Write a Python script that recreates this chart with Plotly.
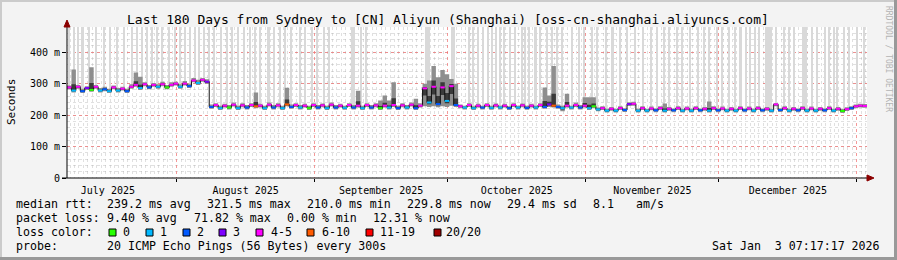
import plotly.graph_objects as go
from datetime import datetime, timedelta

# ---------------- data ----------------
END = datetime(2026, 1, 3, 7, 17, 17)
START = END - timedelta(days=180)
Y_TOP = 480

# daily median rtt (ms), day 0 = START
median_ms = [
    288, 278, 290, 276, 286, 280, 290, 278,
    282, 276, 288, 278, 284, 276, 290,
    296, 286, 298, 288, 296, 290, 298, 288, 296,
    300, 290, 300, 292,
    310, 302, 312, 306,
    226, 232, 222, 230, 224, 233, 222, 231,
    224, 232, 228, 230, 222, 233, 224, 231,
    222, 234, 226, 232, 224, 230, 222, 232,
    224, 231, 222, 233, 224, 230, 223, 232,
    224, 230, 222, 232, 224, 231, 222, 230,
    224, 232, 222, 231, 224, 233, 222, 230,
    285, 240, 290, 235, 288, 245, 292, 232,
    228, 224, 232, 222, 230, 224, 232, 223,
    231, 224, 230, 222, 232, 224, 231, 223,
    230, 224, 232, 226, 234, 230, 226, 222,
    230, 224, 232, 224, 230, 222, 228,
    218, 222, 214, 220, 214, 222, 216,
    235, 236,
    214, 222, 214, 221, 215, 222, 214, 220,
    215, 222, 214, 221, 214, 222, 215, 220,
    214, 222, 215, 221, 214, 220, 214, 222,
    215, 221, 214, 222, 215, 220, 214, 234,
    216, 222, 214, 220, 215, 222, 214, 221,
    214, 220, 215, 222, 214, 220, 213, 219,
    222, 228, 230, 229,
]

# lost pings out of 20 per day
lost_pings = [
    4, 1, 4, 2, 3, 0, 4, 1,
    2, 1, 4, 1, 4, 2, 4,
    4, 1, 4, 2, 4, 1, 4, 0, 4,
    4, 1, 4, 2,
    4, 1, 4, 3,
    2, 4, 1, 4, 0, 4, 1, 4,
    2, 4, 7, 4, 1, 4, 2, 4,
    1, 8, 2, 4, 1, 4, 0, 4,
    2, 4, 1, 4, 2, 4, 1, 4,
    2, 4, 1, 4, 2, 4, 0, 4,
    1, 4, 2, 4, 1, 4, 2, 4,
    4, 1, 4, 2, 4, 1, 4, 2,
    4, 1, 4, 1, 4, 2, 4, 1,
    4, 1, 4, 2, 4, 1, 4, 2,
    4, 1, 4, 2, 3, 8, 2, 1,
    4, 1, 4, 2, 4, 1, 0,
    1, 4, 1, 4, 1, 4, 2,
    3, 4,
    1, 4, 1, 4, 2, 4, 1, 4,
    2, 4, 1, 4, 1, 4, 2, 4,
    1, 4, 2, 4, 1, 4, 1, 4,
    2, 4, 1, 4, 2, 4, 1, 4,
    2, 4, 1, 4, 2, 4, 1, 4,
    1, 4, 2, 4, 1, 4, 0, 4,
    2, 4, 4, 4,
]

# smoke (ping spread) upper and lower bound per day (ms)
smoke_hi_ms = [
    294, 345, 296, 284, 292, 352, 296, 286,
    290, 284, 294, 286, 290, 284, 298,
    335, 322, 304, 296, 302, 298, 306, 296, 304,
    306, 298, 308, 300,
    318, 312, 318, 314,
    234, 238, 230, 236, 232, 240, 230, 238,
    232, 238, 272, 236, 230, 240, 232, 238,
    230, 287, 234, 238, 232, 236, 230, 238,
    232, 237, 230, 240, 232, 236, 230, 238,
    232, 277, 230, 238, 232, 238, 246, 262,
    246, 304, 230, 238, 232, 240, 252, 238,
    300, 310, 356, 320, 343, 330, 315, 300,
    234, 230, 238, 228, 236, 230, 238, 230,
    237, 230, 236, 228, 238, 230, 237, 230,
    236, 230, 238, 288, 262, 356, 234, 230,
    268, 230, 240, 232, 257, 257, 257,
    224, 228, 220, 226, 220, 228, 222,
    241, 242,
    220, 228, 220, 227, 221, 228, 237, 226,
    221, 228, 220, 227, 220, 228, 221, 226,
    243, 228, 221, 227, 220, 226, 220, 228,
    221, 227, 220, 228, 221, 226, 220, 238,
    222, 228, 220, 226, 221, 228, 220, 227,
    220, 226, 221, 228, 220, 226, 219, 225,
    228, 234, 236, 235,
]

smoke_lo_ms = [
    282, 272, 284, 270, 280, 274, 284, 272,
    276, 270, 282, 272, 278, 270, 284,
    290, 280, 292, 282, 290, 284, 292, 282, 290,
    294, 284, 294, 286,
    304, 296, 306, 300,
    220, 226, 216, 224, 218, 227, 216, 225,
    218, 226, 222, 224, 216, 227, 218, 225,
    216, 228, 220, 226, 218, 224, 216, 226,
    218, 225, 216, 227, 218, 224, 217, 226,
    218, 224, 216, 226, 218, 225, 216, 224,
    218, 226, 216, 225, 218, 227, 216, 224,
    228, 226, 228, 225, 228, 226, 230, 226,
    222, 218, 226, 216, 224, 218, 226, 217,
    225, 218, 224, 216, 226, 218, 225, 217,
    224, 218, 226, 220, 226, 224, 220, 212,
    224, 218, 226, 218, 224, 216, 222,
    212, 216, 208, 214, 208, 216, 210,
    229, 230,
    208, 216, 208, 215, 209, 216, 208, 214,
    209, 216, 208, 215, 208, 216, 209, 214,
    208, 216, 209, 215, 208, 214, 208, 216,
    209, 215, 208, 216, 209, 214, 208, 228,
    210, 216, 208, 214, 209, 216, 208, 215,
    208, 214, 209, 216, 208, 214, 207, 213,
    216, 222, 224, 223,
]

# periods where the slowest pings went off the top of the chart (day offset, duration in days)
outlier_day = [
    0.45, 1.58, 2.48, 3.49, 4.95, 6.53, 8.33, 9.68, 11.25, 12.83, 14.63, 15.75,
    16.88, 18.00, 19.13, 20.25, 21.38, 22.95, 24.30, 25.43, 26.55, 27.68, 28.80,
    29.70, 30.83, 31.95, 33.08, 34.65, 36.00, 37.13, 38.48, 39.83, 41.18, 42.30,
    43.43, 45.34, 46.58, 47.93, 49.05, 50.40, 52.43, 53.55, 55.13, 56.25, 57.83,
    58.95, 64.35, 66.15, 67.28, 81.20, 86.74,
    90.46, 91.36, 92.48, 93.61, 94.73, 95.63, 96.53, 97.43, 98.33, 99.57, 100.81,
    102.38, 103.06, 103.96, 105.42, 106.32, 108.01, 109.14, 110.26, 111.39, 113.64,
    115.21, 116.34, 118.14, 119.26,
    121.29, 122.75, 124.44, 126.01, 127.81, 129.61, 131.41, 132.76, 134.34, 135.46,
    137.26, 138.39, 140.19, 141.99, 143.34, 144.46, 146.26, 147.39, 148.96, 150.31,
    151.55, 152.79, 153.69, 154.82, 155.72, 157.85, 159.54, 161.34, 162.46, 163.59,
    165.95, 167.64, 168.77, 170.57, 171.47, 172.59, 173.27, 174.84, 175.97, 177.77,
    179.34,
]
outlier_span_days = [
    0.22, 0.22, 0.22, 0.56, 0.22, 0.45, 0.56, 0.22, 0.22, 0.22, 0.56, 0.22,
    0.22, 0.22, 0.22, 0.22, 0.22, 0.22, 0.22, 0.56, 0.22, 0.22, 0.22,
    0.22, 0.22, 0.22, 0.22, 0.56, 0.22, 0.22, 0.22, 0.22, 0.22, 0.22,
    0.22, 0.68, 0.22, 0.22, 0.22, 0.22, 0.56, 0.22, 0.22, 0.22, 0.22,
    0.22, 0.68, 0.34, 0.45, 1.10, 0.90,
    0.22, 0.22, 0.22, 0.45, 0.22, 0.22, 0.22, 0.22, 0.22, 0.45, 0.22,
    0.22, 0.22, 0.22, 0.68, 0.45, 0.22, 0.22, 0.22, 0.22, 0.22,
    0.22, 0.22, 0.22, 0.22,
    0.22, 0.68, 0.22, 0.22, 0.22, 0.56, 0.22, 0.22, 0.22, 0.56,
    0.22, 0.22, 0.22, 0.45, 0.22, 0.22, 0.22, 0.22, 0.22, 0.22,
    0.79, 0.22, 0.22, 0.22, 0.22, 1.58, 0.22, 0.22, 0.22, 0.22,
    1.13, 0.22, 0.22, 0.22, 0.22, 0.22, 0.22, 0.22, 0.22, 0.22,
    0.22,
]

y_tick_vals = [0, 100, 200, 300, 400]
y_tick_text = ["0", "100 m", "200 m", "300 m", "400 m"]

loss_legend = [("0", 0, 0, "#26ff00"), ("1", 1, 1, "#00b8ff"), ("2", 2, 2, "#0059ff"),
               ("3", 3, 3, "#7e00ff"), ("4-5", 4, 5, "#ff00ff"), ("6-10", 6, 10, "#ff5a00"),
               ("11-19", 11, 19, "#ff0000"), ("20/20", 20, 20, "#a00000")]

title_text = "Last 180 Days from Sydney to [CN] Aliyun (Shanghai) [oss-cn-shanghai.aliyuncs.com]"
rtt_row = [("median rtt:", 16), ("239.2 ms avg", 107), ("321.5 ms max", 207),
           ("210.0 ms min", 307), ("229.8 ms now", 407), ("29.4 ms sd", 507),
           ("8.1", 593), ("am/s", 636)]
loss_row = [("packet loss:", 16), ("9.40 % avg", 107), ("71.82 % max", 194),
            ("0.00 % min", 287), ("12.31 % now", 373)]
probe_row = [("probe:", 16), ("20 ICMP Echo Pings (56 Bytes) every 300s", 107)]
stamp_text = "Sat Jan  3 07:17:17 2026"

# ---------------- geometry (pixels) ----------------
FIG_W, FIG_H = 897, 260
L, T, W, H = 67, 27, 800, 151
MONO = "DejaVu Sans Mono"


def fx(px):
    return (px - L) / W


def fy(py):
    return (T + H - py) / H


def nb(s):
    return s.replace(" ", "\u00a0")


n = len(median_ms)
days = [START + timedelta(days=i) for i in range(n + 1)]
med_ext = median_ms + [median_ms[-1]]
hi_ext = smoke_hi_ms + [smoke_hi_ms[-1]]
lo_ext = smoke_lo_ms + [smoke_lo_ms[-1]]
# inner (denser) part of the smoke, drawn darker
inner_hi = [m + (h - m) * 0.3 for m, h in zip(med_ext, hi_ext)]
inner_lo = [m - (m - l) * 0.4 for m, l in zip(med_ext, lo_ext)]

fig = go.Figure()

# off-scale slow pings (light smoke up to the top)
bx, bbase, bh, bw = [], [], [], []
for d, s in zip(outlier_day, outlier_span_days):
    i = min(int(d), n - 1)
    bx.append(START + timedelta(days=d))
    bbase.append(median_ms[i])
    bh.append(Y_TOP - median_ms[i])
    bw.append(s * 86400000)
fig.add_trace(go.Bar(x=bx, y=bh, base=bbase, width=bw, marker=dict(color="#d9d9d9", line=dict(width=0)),
                     hoverinfo="skip"))

# smoke
fig.add_trace(go.Scatter(x=days, y=lo_ext, mode="lines", line=dict(width=0, shape="hv"), hoverinfo="skip"))
fig.add_trace(go.Scatter(x=days, y=hi_ext, mode="lines", line=dict(width=0, shape="hv"),
                         fill="tonexty", fillcolor="#8e8e8e", hoverinfo="skip"))
fig.add_trace(go.Scatter(x=days, y=inner_lo, mode="lines", line=dict(width=0, shape="hv"), hoverinfo="skip"))
fig.add_trace(go.Scatter(x=days, y=inner_hi, mode="lines", line=dict(width=0, shape="hv"),
                         fill="tonexty", fillcolor="#3a3a3a", hoverinfo="skip"))

# median line base
fig.add_trace(go.Scatter(x=days, y=med_ext, mode="lines", line=dict(width=1, color="#111111", shape="hv"),
                         hoverinfo="skip"))

# coloured median segments by loss
for label, lo_c, hi_c, col in loss_legend:
    xs, ys = [], []
    for i in range(n):
        if lo_c <= lost_pings[i] <= hi_c:
            xs += [days[i], days[i + 1], None]
            ys += [median_ms[i], median_ms[i], None]
    if xs:
        fig.add_trace(go.Scatter(x=xs, y=ys, mode="lines", line=dict(width=2, color=col),
                                 hoverinfo="skip", connectgaps=False))

ann = []
ann.append(dict(text=nb(title_text), x=fx(447.5), y=fy(19.5), xref="paper", yref="paper",
                showarrow=False, font=dict(family=MONO, size=13, color="#000"), xanchor="center",
                yanchor="middle"))
ann.append(dict(text="Seconds", x=fx(11), y=fy(102), xref="paper", yref="paper", showarrow=False,
                textangle=-90, font=dict(family=MONO, size=11, color="#000"), xanchor="center",
                yanchor="middle"))
ann.append(dict(text=nb("RRDTOOL / TOBI OETIKER"), x=fx(889), y=fy(59), xref="paper", yref="paper",
                showarrow=False, textangle=90, font=dict(family=MONO, size=8, color="#b4b4b4"),
                xanchor="center", yanchor="middle"))


def row(items, py):
    for txt, px in items:
        ann.append(dict(text=nb(txt), x=fx(px - 2), y=fy(py), xref="paper", yref="paper",
                        showarrow=False, font=dict(family=MONO, size=11.6, color="#000"),
                        xanchor="left", yanchor="middle"))


row(rtt_row, 204)
row(loss_row, 218)
row([("loss color:", 16)], 232)
row(probe_row, 246)
ann.append(dict(text=nb(stamp_text), x=fx(882), y=fy(246), xref="paper", yref="paper", showarrow=False,
                font=dict(family=MONO, size=11.6, color="#000"), xanchor="right", yanchor="middle"))

shapes = []
box_left = [109, 146, 183, 219, 256, 307, 366, 434]
label_left = [123, 160, 197, 233, 271, 322, 380, 446]
for (label, a, b, col), bl, tl in zip(loss_legend, box_left, label_left):
    shapes.append(dict(type="rect", xref="paper", yref="paper", x0=fx(bl), x1=fx(bl + 7),
                       y0=fy(236), y1=fy(229), fillcolor=col, line=dict(color="#000", width=1)))
    row([(label, tl)], 232)

# frame (3D border)
shapes.append(dict(type="rect", xref="paper", yref="paper", x0=fx(0), x1=fx(FIG_W), y0=fy(2), y1=fy(0),
                   fillcolor="#cbcbcb", line=dict(width=0), layer="above"))
shapes.append(dict(type="rect", xref="paper", yref="paper", x0=fx(0), x1=fx(2), y0=fy(FIG_H), y1=fy(0),
                   fillcolor="#cbcbcb", line=dict(width=0), layer="above"))
shapes.append(dict(type="rect", xref="paper", yref="paper", x0=fx(0), x1=fx(FIG_W), y0=fy(FIG_H),
                   y1=fy(257), fillcolor="#999999", line=dict(width=0), layer="above"))
shapes.append(dict(type="rect", xref="paper", yref="paper", x0=fx(894), x1=fx(FIG_W), y0=fy(FIG_H),
                   y1=fy(0), fillcolor="#999999", line=dict(width=0), layer="above"))

# axis extensions and arrows
shapes.append(dict(type="line", xref="paper", yref="paper", x0=fx(67), x1=fx(67), y0=fy(178), y1=fy(22),
                   line=dict(color="#000", width=1), layer="above"))
shapes.append(dict(type="line", xref="paper", yref="paper", x0=fx(62), x1=fx(870), y0=fy(178), y1=fy(178),
                   line=dict(color="#000", width=1), layer="above"))
shapes.append(dict(type="path", xref="paper", yref="paper",
                   path=f"M {fx(867)},{fy(175)} L {fx(874)},{fy(178)} L {fx(867)},{fy(181)} Z",
                   fillcolor="#8b0000", line=dict(color="#8b0000", width=1), layer="above"))
shapes.append(dict(type="path", xref="paper", yref="paper",
                   path=f"M {fx(64)},{fy(27)} L {fx(67)},{fy(20)} L {fx(70)},{fy(27)} Z",
                   fillcolor="#8b0000", line=dict(color="#8b0000", width=1), layer="above"))

fig.update_layout(
    width=FIG_W, height=FIG_H,
    margin=dict(l=L, r=FIG_W - L - W, t=T, b=FIG_H - T - H, pad=0),
    paper_bgcolor="#f3f3f3", plot_bgcolor="#ffffff",
    showlegend=False, barmode="overlay", bargap=0,
    annotations=ann, shapes=shapes,
    font=dict(family=MONO, size=10, color="#000"),
)
fig.update_xaxes(
    type="date", range=[START, END], dtick="M1", tick0="2025-07-01",
    tickformat="%B %Y", ticklabelmode="period",
    showgrid=True, gridcolor="rgba(240,110,110,0.7)", griddash="dot", gridwidth=1,
    ticks="outside", ticklen=3, tickcolor="#000",
    showline=False, zeroline=False,
    tickfont=dict(family=MONO, size=10, color="#000"),
    minor=dict(dtick=86400000, tick0="2025-07-01", showgrid=True,
               gridcolor="rgba(160,160,160,0.32)", griddash="dot", gridwidth=1),
)
fig.update_yaxes(
    range=[0, Y_TOP], tickvals=y_tick_vals, ticktext=y_tick_text,
    showgrid=True, gridcolor="rgba(240,110,110,0.7)", griddash="dot", gridwidth=1,
    ticks="outside", ticklen=4, tickcolor="#000",
    showline=False, zeroline=False,
    tickfont=dict(family=MONO, size=10, color="#000"),
    minor=dict(dtick=20, tick0=0, showgrid=True, gridcolor="rgba(160,160,160,0.32)",
               griddash="dot", gridwidth=1),
)

fig.write_html("out.html")
